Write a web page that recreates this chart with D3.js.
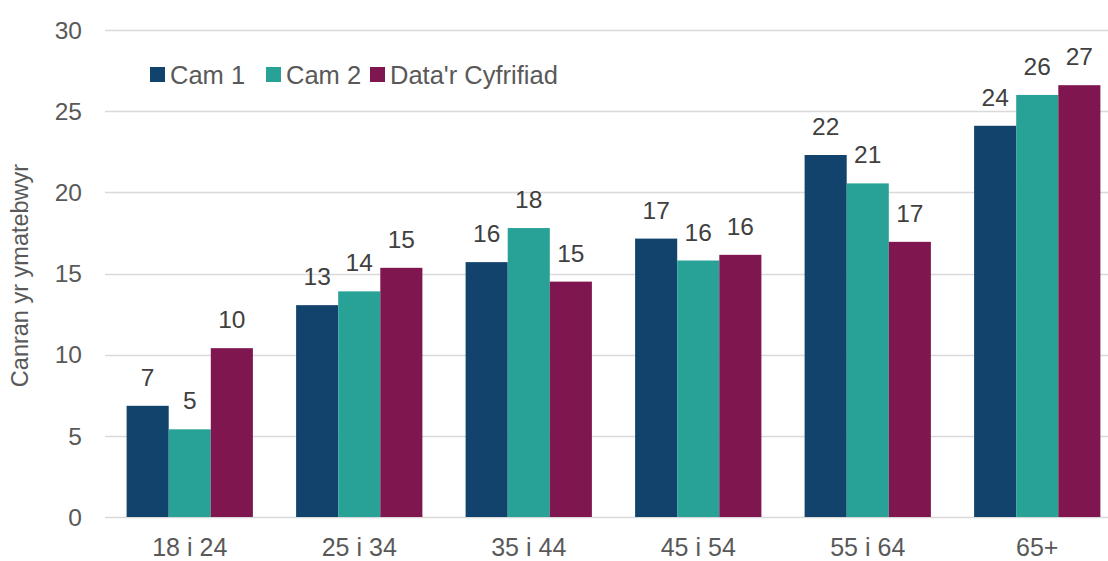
<!DOCTYPE html>
<html>
<head>
<meta charset="utf-8">
<script src="https://cdn.jsdelivr.net/npm/d3@7"></script>
<style>
  body { margin: 0; background: #fff; }
  svg text { font-family: "Liberation Sans", Arial, sans-serif; }
</style>
</head>
<body>
<svg id="chart" width="1108" height="561"></svg>
<script>
"use strict";

// Data
var categories = ["18 i 24", "25 i 34", "35 i 44", "45 i 54", "55 i 64", "65+"],
    seriesNames = ["Cam 1", "Cam 2", "Data'r Cyfrifiad"],
    cam1 = [6.85, 13.05, 15.7, 17.15, 22.3, 24.1],
    cam2 = [5.4, 13.9, 17.8, 15.8, 20.55, 26.0],
    census = [10.4, 15.35, 14.5, 16.15, 16.95, 26.6],
    yTicks = [0, 5, 10, 15, 20, 25, 30],
    colours = ["#12436D", "#28A197", "#801650"];

var values = [cam1, cam2, census];

var svg = d3.select("#chart"),
    x0 = 105, x1 = 1122,
    yBottom = 517, yTop = 30;

var x = d3.scaleBand()
    .domain(categories)
    .range([x0, x1])
    .paddingInner(0.255)
    .paddingOuter(0.1275);

var xs = d3.scaleBand()
    .domain(seriesNames)
    .range([0, x.bandwidth()]);

var y = d3.scaleLinear()
    .domain([0, 30])
    .range([yBottom, yTop]);

// gridlines
svg.append("g")
    .selectAll("line")
    .data(yTicks)
    .enter().append("line")
    .attr("x1", x0)
    .attr("x2", 1108)
    .attr("y1", function (d) { return Math.round(y(d)) + 0.5; })
    .attr("y2", function (d) { return Math.round(y(d)) + 0.5; })
    .attr("stroke", "#d9d9d9")
    .attr("stroke-width", 1.5);

// y tick labels
svg.append("g")
    .selectAll("text")
    .data(yTicks)
    .enter().append("text")
    .attr("x", 82)
    .attr("y", function (d) { return y(d); })
    .attr("dy", "0.36em")
    .attr("text-anchor", "end")
    .attr("font-size", 24.5)
    .attr("fill", "#595959")
    .text(function (d) { return d; });

// axis title
svg.append("text")
    .attr("transform", "translate(28," + ((yTop + yBottom) / 2 + 2) + ") rotate(-90)")
    .attr("text-anchor", "middle")
    .attr("font-size", 23.5)
    .attr("fill", "#595959")
    .text("Canran yr ymatebwyr");

// bars
var groups = svg.append("g")
    .selectAll("g")
    .data(seriesNames)
    .enter().append("g")
    .attr("fill", function (d, i) { return colours[i]; });

function rows(s, si) {
    return categories.map(function (c, ci) {
        return { cat: c, series: s, v: values[si][ci] };
    });
}

groups.selectAll("rect")
    .data(rows)
    .enter().append("rect")
    .attr("x", function (d) { return x(d.cat) + xs(d.series); })
    .attr("width", xs.bandwidth())
    .attr("y", function (d) { return y(d.v); })
    .attr("height", function (d) { return y(0) - y(d.v); });

// value labels
groups.selectAll("text")
    .data(rows)
    .enter().append("text")
    .attr("x", function (d) { return x(d.cat) + xs(d.series) + xs.bandwidth() / 2; })
    .attr("y", function (d) { return y(d.v) - 20; })
    .attr("text-anchor", "middle")
    .attr("font-size", 24.5)
    .attr("fill", "#404040")
    .text(function (d) { return Math.round(d.v); });

// x labels
svg.append("g")
    .selectAll("text")
    .data(categories)
    .enter().append("text")
    .attr("x", function (d) { return x(d) + x.bandwidth() / 2; })
    .attr("y", 556)
    .attr("text-anchor", "middle")
    .attr("font-size", 25)
    .attr("fill", "#595959")
    .text(function (d) { return d; });

// legend
var legendX = [150, 266, 370];
var legend = svg.append("g")
    .selectAll("g")
    .data(seriesNames)
    .enter().append("g")
    .attr("transform", function (d, i) { return "translate(" + legendX[i] + ",67)"; });

legend.append("rect")
    .attr("width", 15)
    .attr("height", 15)
    .attr("fill", function (d, i) { return colours[i]; });

legend.append("text")
    .attr("x", 20)
    .attr("y", 7.5)
    .attr("dy", "0.36em")
    .attr("font-size", 25.5)
    .attr("fill", "#595959")
    .text(function (d) { return d; });
</script>
</body>
</html>
